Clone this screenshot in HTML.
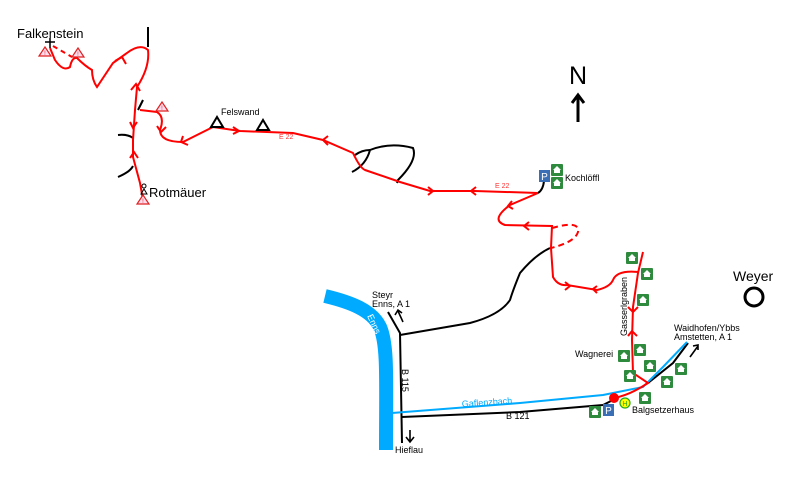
<!DOCTYPE html><html><head><meta charset="utf-8"><style>body{margin:0;background:#fff}svg{display:block}text{font-family:"Liberation Sans",sans-serif}</style></head><body>
<svg width="800" height="488" viewBox="0 0 800 488">
<defs>
<g id="h"><rect x="-6" y="-6" width="12" height="12" fill="#2e8b3e" rx="1"/><path d="M-4 0 L0 -4 L4 0 Z M-3 0 h6 v3 h-6z" fill="#fff"/></g>
<g id="w"><path d="M0 -5 L6 4 L-6 4Z" fill="#fde" stroke="#d22" stroke-width="1.2"/><text x="0" y="3" font-size="6" text-anchor="middle" fill="#d22">!</text></g>
</defs>
<path d="M325 296 C350 302 372 310 380 327 C388 345 386 380 386 450" fill="none" stroke="#00aaff" stroke-width="14"/>
<text x="0" y="0" font-size="9" fill="#fff" transform="translate(367,316) rotate(65)">Enns</text>
<g fill="none" stroke="#000" stroke-width="2">
<path d="M148 27 L148 47"/><path d="M143 100 L138 110"/><path d="M118 135 Q128 134 133 138"/><path d="M118 177 Q130 172 133 166"/>
<path d="M352 172 Q366 165 370 150 Q390 142 413 148 Q418 160 398 180 L397 183"/><path d="M355 155 Q362 150 370 150"/>
<path d="M550 248 Q535 255 520 273 Q513 290 510 300 Q500 315 470 323 L400 335"/>
<path d="M388 312 L400 333 L402 443"/>
<path d="M402 417 L520 412 L603 405 L613 400"/>
<path d="M648 383 L673 363 L688 343"/>
<path d="M544 181 Q543 190 538 193"/>
</g>
<path d="M392 413 L520 403 L603 395 L643 387 L663 367 L687 342" fill="none" stroke="#00aaff" stroke-width="2"/>
<text x="462" y="407" font-size="9" fill="#00aaff" transform="rotate(-4 462 407)">Gaflenzbach</text>
<g fill="none" stroke="#f00" stroke-width="2">
<path d="M143 200 L140 183 L133 157 L133 140 L135 110 L137 87 Q150 67 148 50 Q140 43 127 53 L113 63 L97 87 Q92 80 92 70 Q85 66 77 58 Q72 57 70 67 Q63 72 55 60 L50 48"/>
<path d="M53 46 L72 57" stroke-dasharray="5 4"/>
<path d="M140 110 L157 112 Q165 117 160 130 Q160 142 183 142 L213 127 L240 131 L293 133 L323 140 L353 153 Q360 168 365 170 L400 182 L430 191 L475 191 L538 193"/>
<path d="M538 193 L510 205 Q490 220 505 225 L552 226 L551 248 L553 277 Q558 286 567 285 L597 290 Q610 287 613 280 Q617 270 638 272"/>
<path d="M552 228 Q580 220 578 232 Q575 242 551 248" stroke-dasharray="6 4"/>
<path d="M643 252 L638 273 L633 307 L632 340 L633 373 L648 383 Q630 395 614 398"/>
<path d="M115 61 L122 57 L126 64"/><path d="M131 90 L136 84 L140 91"/><path d="M130 122 L133 128 L137 122"/><path d="M130 158 L134 152 L138 158"/><path d="M157 126 L161 132 L166 127"/>
<path d="M183 136 L181 142 L188 145"/><path d="M233 127 L239 131 L233 134"/><path d="M328 136 L323 140 L328 145"/><path d="M428 187 L433 191 L428 195"/><path d="M476 187 L471 191 L476 195"/>
<path d="M512 201 L508 206 L513 209"/><path d="M529 222 L524 226 L529 230"/><path d="M565 282 L570 286 L565 290"/><path d="M597 286 L593 289 L597 293"/>
<path d="M628 307 L633 312 L638 307"/><path d="M628 336 L632 331 L637 336"/>
</g>
<circle cx="614" cy="398" r="5" fill="#f00"/>
<use href="#w" x="45" y="52"/><use href="#w" x="78" y="53"/><use href="#w" x="162" y="107"/><use href="#w" x="143" y="200"/>
<path d="M211 127 L217 117 L223 127 Z" fill="none" stroke="#000" stroke-width="2"/>
<path d="M257 130 L263 120 L269 130 Z" fill="none" stroke="#000" stroke-width="2"/>
<path d="M45 42 h10 M50 38 v10" stroke="#000" stroke-width="1.5"/>
<circle cx="144" cy="186" r="2" fill="none" stroke="#000"/><path d="M141 194 L144 189 L147 194Z" fill="none" stroke="#000"/>
<use href="#h" x="557" y="170"/><use href="#h" x="557" y="183"/>
<use href="#h" x="632" y="258"/><use href="#h" x="647" y="274"/><use href="#h" x="643" y="300"/><use href="#h" x="640" y="350"/><use href="#h" x="624" y="356"/><use href="#h" x="650" y="366"/><use href="#h" x="630" y="376"/><use href="#h" x="681" y="369"/><use href="#h" x="667" y="382"/><use href="#h" x="645" y="398"/><use href="#h" x="595" y="412"/>
<rect x="539" y="170" width="11" height="12" fill="#3a6fb5"/><text x="544.5" y="180" font-size="10" fill="#fff" text-anchor="middle">P</text>
<rect x="603" y="404" width="11" height="12" fill="#3a6fb5"/><text x="608.5" y="414" font-size="10" fill="#fff" text-anchor="middle">P</text>
<circle cx="625" cy="403" r="5" fill="#ff0" stroke="#2a2" stroke-width="1.2"/><text x="625" y="406" font-size="7" text-anchor="middle" fill="#2a2">H</text>
<circle cx="754" cy="297" r="9" fill="none" stroke="#000" stroke-width="3"/>
<path d="M578 122 L578 96 M572 103 L578 95 L584 103" fill="none" stroke="#000" stroke-width="3"/>
<text x="578" y="84" font-size="25" text-anchor="middle">N</text>
<g fill="none" stroke="#000" stroke-width="1.6"><path d="M403 322 L398 311 M395 315 L398 310 L402 313"/><path d="M410 430 L410 441 M406 437 L410 442 L414 437"/><path d="M690 357 L698 346 M693 346 L698 345 L698 350"/></g>
<text x="17" y="38" font-size="13">Falkenstein</text>
<text x="149" y="197" font-size="13">Rotmäuer</text>
<text x="221" y="115" font-size="9">Felswand</text>
<text x="279" y="139" font-size="7" fill="#f33">E 22</text>
<text x="495" y="188" font-size="7" fill="#f33">E 22</text>
<text x="565" y="181" font-size="9">Kochlöffl</text>
<text x="733" y="281" font-size="14">Weyer</text>
<text x="372" y="298" font-size="9">Steyr</text>
<text x="372" y="307" font-size="9">Enns, A 1</text>
<text x="674" y="331" font-size="9">Waidhofen/Ybbs</text>
<text x="674" y="340" font-size="9">Amstetten, A 1</text>
<text x="575" y="357" font-size="9">Wagnerei</text>
<text x="632" y="413" font-size="9">Balgsetzerhaus</text>
<text x="506" y="419" font-size="9">B 121</text>
<text x="395" y="453" font-size="9">Hieflau</text>
<text x="0" y="0" font-size="9" transform="translate(402,369) rotate(90)">B 115</text>
<text x="0" y="0" font-size="9" transform="translate(627,336) rotate(-90)">Gasserlgraben</text>
</svg></body></html>
